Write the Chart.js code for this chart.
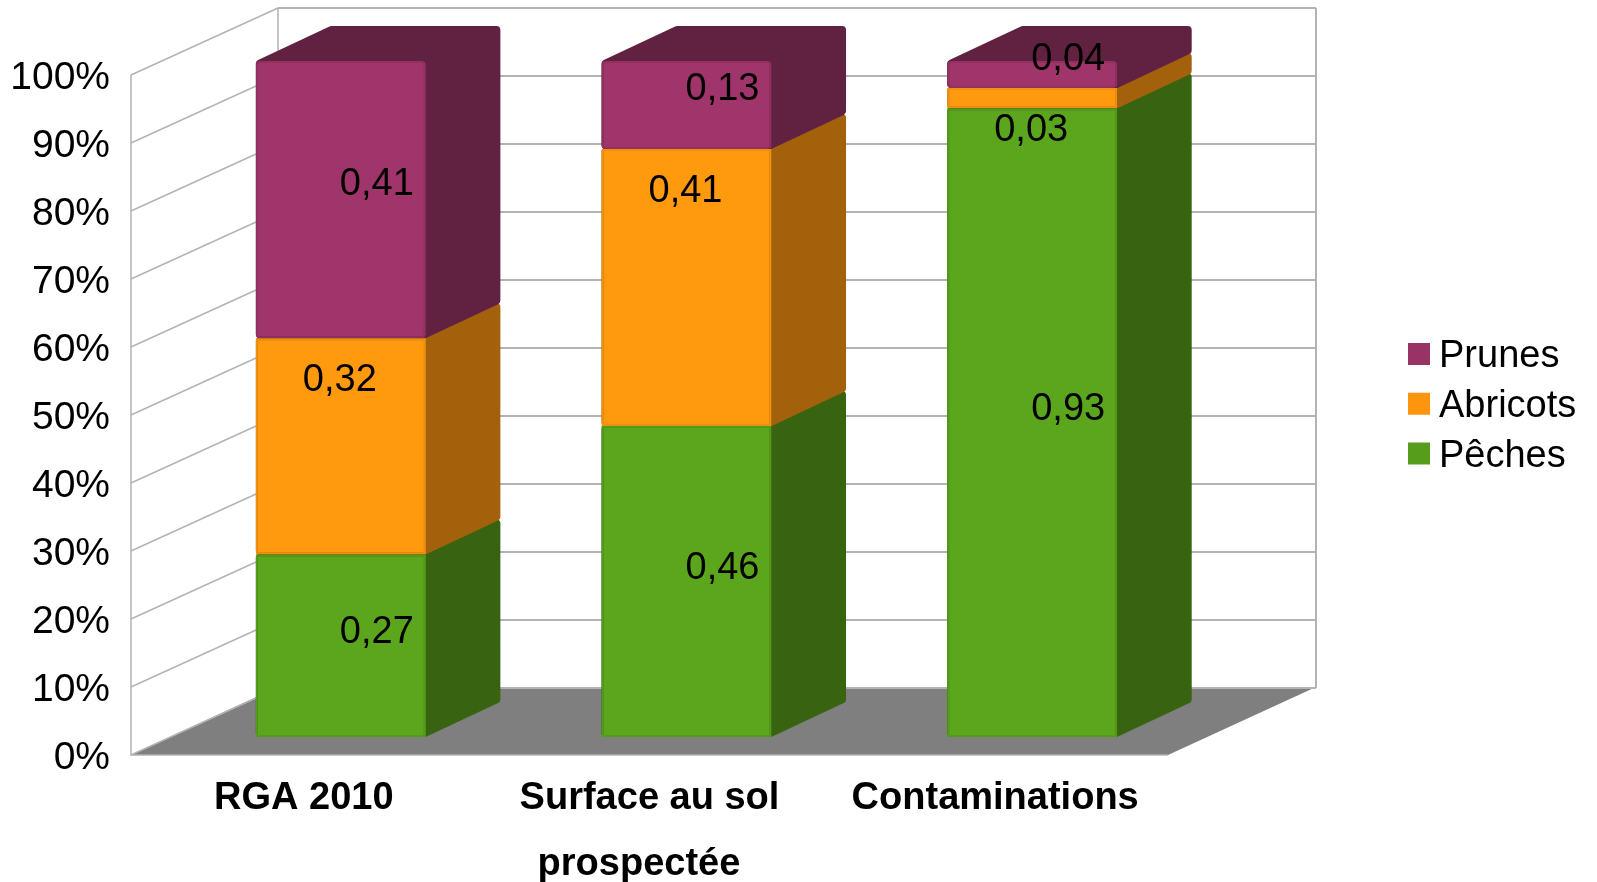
<!DOCTYPE html>
<html><head><meta charset="utf-8">
<style>html,body{margin:0;padding:0;background:#fff}canvas{display:block}</style>
<script src="https://cdn.jsdelivr.net/npm/chart.js@4"></script>
</head><body>
<canvas id="c" width="1597" height="882"></canvas>
<script>
const categories = [['RGA 2010'], ['Surface au sol', 'prospectée  '], ['Contaminations']];
const peches = [0.27, 0.46, 0.93];
const abricots = [0.32, 0.41, 0.03];
const prunes = [0.41, 0.13, 0.04];
const seriesNames = ['Pêches', 'Abricots', 'Prunes'];
const frontColors = ['#5ca61d', '#ff9a0f', '#a0356b'];
const edgeColors = ['#549a1b', '#ee9010', '#942f62'];
const sideColors = ['#386412', '#a3610c', '#612241'];
const legendColors = ['#579d1c', '#ff950e', '#993366'];
const FONT = '"Liberation Sans", Arial, sans-serif';

// 3D projection of the chart
const WALL_DX = 147, WALL_DY = 67;      // wall depth
const BAR_SHIFT = 37;                   // bars stand a quarter of the way in
const BAR_DX = 74.5, BAR_DY = 35;       // bar depth

function roundPoly(ctx, pts, r) {
  const n = pts.length;
  ctx.beginPath();
  const mid = (a, b) => [(a[0] + b[0]) / 2, (a[1] + b[1]) / 2];
  const s = mid(pts[n - 1], pts[0]);
  ctx.moveTo(s[0], s[1]);
  for (let i = 0; i < n; i++) {
    const p = pts[i], q = pts[(i + 1) % n];
    ctx.arcTo(p[0], p[1], q[0], q[1], r);
  }
  ctx.closePath();
}

const stage3d = {
  id: 'stage3d',
  beforeDatasetsDraw(chart) {
    const ctx = chart.ctx, a = chart.chartArea, y = chart.scales.y;
    ctx.save();
    // floor
    ctx.fillStyle = '#7f7f7f';
    ctx.beginPath();
    ctx.moveTo(a.left, a.bottom);
    ctx.lineTo(a.right, a.bottom);
    ctx.lineTo(a.right + WALL_DX + 1, a.bottom - WALL_DY - 1);
    ctx.lineTo(a.left + WALL_DX, a.bottom - WALL_DY - 1);
    ctx.closePath();
    ctx.fill();
    // walls and grid
    ctx.strokeStyle = '#b3b3b3';
    y.ticks.forEach(t => {
      const py = y.getPixelForValue(t.value);
      ctx.lineWidth = 1.5;
      ctx.beginPath();
      ctx.moveTo(a.left, py);
      ctx.lineTo(a.left + WALL_DX, py - WALL_DY);
      ctx.stroke();
      ctx.lineWidth = 2;
      ctx.beginPath();
      ctx.moveTo(a.left + WALL_DX, py - WALL_DY);
      ctx.lineTo(a.right + WALL_DX + 1, py - WALL_DY);
      ctx.stroke();
    });
    ctx.lineWidth = 1.5;
    ctx.beginPath();
    ctx.moveTo(a.left, a.top); ctx.lineTo(a.left, a.bottom); ctx.lineTo(a.right, a.bottom);
    ctx.moveTo(a.left + WALL_DX, a.top - WALL_DY); ctx.lineTo(a.left + WALL_DX, a.bottom - WALL_DY);
    ctx.stroke();
    ctx.lineWidth = 2;
    ctx.beginPath();
    ctx.moveTo(a.right + WALL_DX + 1, a.top - WALL_DY); ctx.lineTo(a.right + WALL_DX + 1, a.bottom - WALL_DY);
    ctx.stroke();
    // side and top faces of each bar, bottom of the stack first
    for (let d = 0; d < chart.data.datasets.length; d++) {
      chart.getDatasetMeta(d).data.forEach(bar => {
        const xr = bar.x + BAR_SHIFT + bar.width / 2;
        const xl = bar.x + BAR_SHIFT - bar.width / 2;
        const top = bar.y, bot = bar.base;
        ctx.fillStyle = sideColors[d];
        roundPoly(ctx, [
          [xl, top], [xl + BAR_DX, top - BAR_DY], [xr + BAR_DX, top - BAR_DY],
          [xr + BAR_DX, bot - BAR_DY], [xr, bot], [xl, bot]
        ], 4);
        ctx.fill();
      });
    }
    ctx.restore();
    // front faces come from the library, a quarter of the way into the box
    ctx.save();
    ctx.translate(BAR_SHIFT, 0);
  },
  afterDatasetsDraw(chart) {
    const ctx = chart.ctx;
    ctx.restore();
    // value labels
    ctx.save();
    ctx.font = '38px ' + FONT;
    ctx.fillStyle = '#000';
    ctx.textAlign = 'center';
    ctx.textBaseline = 'middle';
    chart.data.datasets.forEach((ds, d) => {
      chart.getDatasetMeta(d).data.forEach((bar, i) => {
        const txt = ds.data[i].toFixed(2).replace('.', ',');
        const fx = bar.x + BAR_SHIFT;
        if (d === 1) ctx.fillText(txt, fx - 1, bar.y + 42.5);
        else ctx.fillText(txt, fx + 36, (bar.y + bar.base) / 2 - (d === 0 ? 13 : 15.5));
      });
    });
    // legend, last series first
    ctx.textAlign = 'left';
    ctx.textBaseline = 'alphabetic';
    const rows = [2, 1, 0];
    rows.forEach((d, r) => {
      ctx.fillStyle = legendColors[d];
      ctx.fillRect(1408, 343 + r * 49.75, 22, 22);
      ctx.fillStyle = '#000';
      ctx.fillText(seriesNames[d], 1439, 367 + r * 50);
    });
    ctx.restore();
  }
};

const makeDataset = (label, data, d) => ({
  label, data,
  backgroundColor: frontColors[d],
  borderColor: edgeColors[d],
  borderWidth: 2,
  borderRadius: 4,
  borderSkipped: false,
  inflateAmount: 0,
  yAxisID: 'yBars',
  clip: false
});

new Chart(document.getElementById('c'), {
  type: 'bar',
  data: {
    labels: categories,
    datasets: [
      makeDataset(seriesNames[0], peches, 0),
      makeDataset(seriesNames[1], abricots, 1),
      makeDataset(seriesNames[2], prunes, 2)
    ]
  },
  options: {
    responsive: false,
    animation: false,
    devicePixelRatio: 1,
    layout: { padding: { left: 0, right: 429, top: 75, bottom: 0 } },
    datasets: { bar: { categoryPercentage: 1, barPercentage: 0.492 } },
    plugins: { legend: { display: false }, tooltip: { enabled: false } },
    scales: {
      x: {
        stacked: true,
        grid: { display: false },
        border: { display: false },
        afterFit(s) { s.height = 127; },
        ticks: {
          autoSkip: false, maxRotation: 0, minRotation: 0, padding: 2,
          color: '#000',
          font: { family: FONT, size: 38, weight: 'bold', lineHeight: 1.74 }
        }
      },
      y: {
        min: 0, max: 1,
        position: 'left',
        grid: { display: false },
        border: { display: false },
        afterFit(s) { s.width = 131; },
        ticks: {
          stepSize: 0.1, autoSkip: false, padding: 13, labelOffset: 3,
          color: '#000',
          font: { family: FONT, size: 39 },
          callback: v => Math.round(v * 100) + '%'
        }
      },
      yBars: {
        display: false, stacked: true,
        min: -18 / 676, max: 1 - 14 / 676
      }
    }
  },
  plugins: [stage3d]
});
</script>
</body></html>
